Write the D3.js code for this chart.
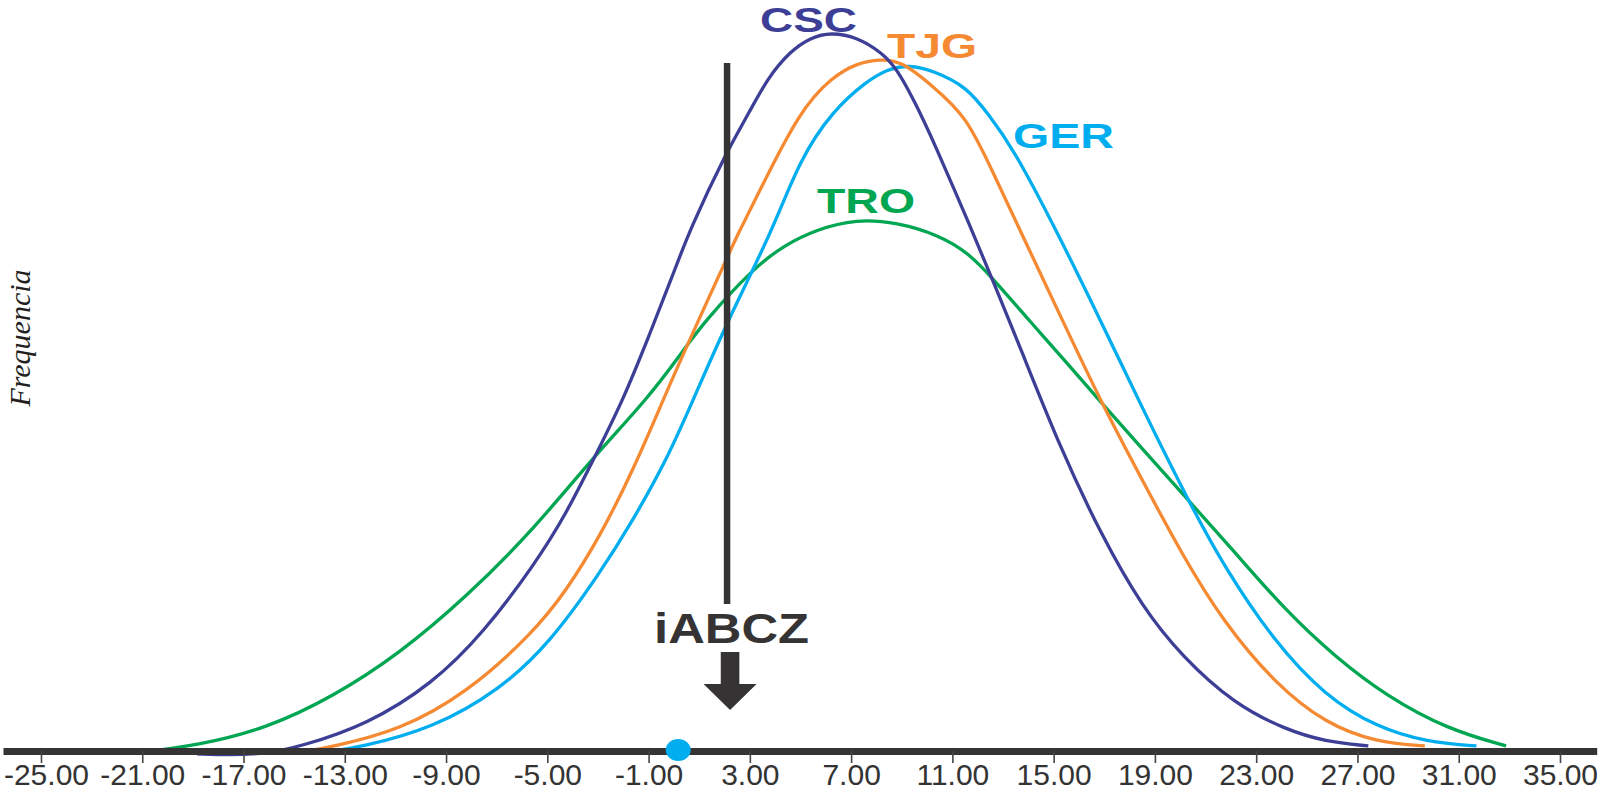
<!DOCTYPE html>
<html>
<head>
<meta charset="utf-8">
<script src="https://cdn.jsdelivr.net/npm/d3@7"></script>
<style>
  html, body { margin: 0; padding: 0; background: #ffffff; }
  svg { display: block; }
</style>
</head>
<body>
<svg id="chart" width="1599" height="792"></svg>
<script>
// ---------- data ----------
const tickValues = [-25, -21, -17, -13, -9, -5, -1, 3, 7, 11, 15, 19, 23, 27, 31, 35];

const seriesNames = ["CSC", "TJG", "GER", "TRO"];

const cscX = [-18.84, -17.56, -16.15, -14.77, -12.14, -9.51, -7.53, -5.56, -4.24, -3.05, -2.00, -1.00, 0.00, 0.63, 2.06, 2.98, 3.67, 4.59, 5.40, 6.20, 7.21, 8.22, 8.82, 9.51, 10.23, 11.76, 12.65, 13.66, 15.27, 16.88, 18.49, 20.10, 22.11, 24.13, 25.74, 27.43];
const cscY = [-0.4, -0.55, -0.4, 0.6, 3.6, 9.4, 16.4, 25.6, 33.0, 41.4, 48.8, 57.5, 66.5, 72.4, 83.1, 88.7, 93.3, 97.2, 99.1, 99.8, 99.2, 97.0, 94.7, 90.2, 84.9, 72.4, 64.9, 56.2, 42.0, 30.0, 20.0, 13.0, 6.6, 3.0, 1.3, 0.7];

const tjgX = [-14.77, -13.46, -10.82, -8.19, -5.56, -4.24, -2.92, -1.61, -0.42, 0.36, 2.06, 2.61, 3.18, 4.96, 6.29, 7.21, 8.14, 9.02, 10.23, 11.56, 12.65, 13.66, 15.27, 16.88, 18.49, 20.10, 21.71, 23.73, 25.74, 27.75, 29.66];
const tjgY = [-0.2, 0.6, 2.9, 8.0, 16.4, 22.3, 29.8, 39.0, 48.8, 55.1, 68.2, 72.4, 76.3, 89.0, 93.7, 95.5, 96.1, 95.8, 92.3, 88.2, 80.0, 72.4, 60.4, 48.4, 37.7, 27.1, 17.9, 9.4, 3.8, 1.2, 0.7];

const gerX = [-13.67, -12.40, -9.51, -6.87, -4.90, -2.92, -1.61, -0.29, 0.76, 2.06, 3.91, 4.96, 6.29, 7.61, 8.42, 9.31, 10.23, 11.56, 12.45, 13.37, 15.11, 16.88, 18.49, 20.30, 21.71, 23.73, 25.74, 27.75, 29.77, 31.70];
const gerY = [-0.1, 0.5, 3.15, 8.5, 15.0, 24.7, 32.1, 40.4, 48.75, 59.3, 72.4, 82.1, 89.0, 93.0, 94.7, 95.3, 94.5, 92.3, 88.3, 83.9, 72.3, 59.6, 47.7, 34.9, 25.7, 15.1, 7.6, 3.3, 1.2, 0.7];

const troX = [-21.29, -18.72, -16.09, -13.46, -10.82, -8.19, -5.56, -3.05, -1.08, 0.35, 1.17, 3.18, 4.39, 5.60, 7.21, 8.82, 10.43, 11.64, 12.65, 14.06, 15.67, 16.88, 18.49, 20.30, 22.11, 24.13, 26.14, 28.16, 30.57, 32.87];
const troY = [-0.3, 0.83, 3.15, 7.54, 13.57, 21.43, 30.69, 41.35, 48.75, 55.5, 59.5, 67.2, 70.3, 72.4, 73.9, 73.4, 71.7, 69.2, 65.4, 59.7, 53.3, 48.4, 42.0, 34.9, 27.8, 19.6, 13.0, 7.6, 3.0, 0.7];

const iabczValue = 2.1;     // vertical marker
const pointValue = 0.17;    // blue dot on the axis

const colors = { CSC: "#3d3f96", TJG: "#f68a33", GER: "#00aeef", TRO: "#00a651" };

// ---------- chart ----------
const svg = d3.select("#chart");

const x = d3.scaleLinear().domain([-26.5, 36.45]).range([3, 1596.7]);
const y = d3.scaleLinear().domain([0, 100]).range([751, 31]);

const series = [
  { name: "TRO", xs: troX, ys: troY },
  { name: "GER", xs: gerX, ys: gerY },
  { name: "TJG", xs: tjgX, ys: tjgY },
  { name: "CSC", xs: cscX, ys: cscY }
];

const line = d3.line()
  .x(d => x(d[0]))
  .y(d => y(d[1]))
  .curve(d3.curveBasis);

svg.append("g").selectAll("path")
  .data(series)
  .join("path")
  .attr("d", s => line(s.xs.map((v, i) => [v, s.ys[i]])))
  .attr("fill", "none")
  .attr("stroke", s => colors[s.name])
  .attr("stroke-width", 3.3)
  .attr("stroke-linejoin", "round");

// vertical iABCZ marker
const xm = x(iabczValue);
svg.append("line")
  .attr("x1", xm).attr("x2", xm)
  .attr("y1", 63).attr("y2", 604)
  .attr("stroke", "#353334")
  .attr("stroke-width", 6.5);

svg.append("text")
  .attr("x", xm + 4.5).attr("y", 643)
  .attr("text-anchor", "middle")
  .attr("font-family", "'Liberation Sans', Arial, sans-serif")
  .attr("font-weight", "bold")
  .attr("font-size", 43)
  .attr("textLength", 155)
  .attr("lengthAdjust", "spacingAndGlyphs")
  .attr("fill", "#353334")
  .text("iABCZ");

const xa = xm + 3;
svg.append("path")
  .attr("d", `M${xa - 9.3},652 L${xa + 9.3},652 L${xa + 9.3},684 L${xa + 26.5},684 L${xa},710 L${xa - 26.5},684 L${xa - 9.3},684 Z`)
  .attr("fill", "#353334");

// x axis
const axis = d3.axisBottom(x)
  .tickValues(tickValues)
  .tickFormat(d => d.toFixed(2))
  .tickSizeInner(12)
  .tickSizeOuter(0);

const gAxis = svg.append("g")
  .attr("transform", "translate(0,751)")
  .call(axis);

gAxis.select(".domain")
  .attr("stroke", "#353334")
  .attr("stroke-width", 7);
gAxis.selectAll(".tick line")
  .attr("stroke", "#444")
  .attr("stroke-width", 1.6);
gAxis.selectAll(".tick text")
  .attr("y", 34)
  .attr("dy", 0)
  .attr("fill", "#333")
  .attr("font-family", "'Liberation Sans', Arial, sans-serif")
  .attr("font-size", 30);
// keep the first label inside the left edge
gAxis.selectAll(".tick text")
  .filter((d, i) => i === 0)
  .attr("x", 5);

// blue point on the axis
svg.append("ellipse")
  .attr("cx", x(pointValue)).attr("cy", 750)
  .attr("rx", 12.5).attr("ry", 11)
  .attr("fill", "#00aeef");

// series labels
const labelPos = {
  CSC: { x: 760, y: 32, w: 97 },
  TJG: { x: 887, y: 58, w: 90 },
  GER: { x: 1013, y: 148, w: 101 },
  TRO: { x: 817, y: 213, w: 98 }
};
svg.append("g").selectAll("text")
  .data(seriesNames)
  .join("text")
  .attr("x", d => labelPos[d].x)
  .attr("y", d => labelPos[d].y)
  .attr("font-family", "'Liberation Sans', Arial, sans-serif")
  .attr("font-weight", "bold")
  .attr("font-size", 35)
  .attr("textLength", d => labelPos[d].w)
  .attr("lengthAdjust", "spacingAndGlyphs")
  .attr("fill", d => colors[d])
  .text(d => d);

// y label
svg.append("text")
  .attr("transform", "translate(30,338) rotate(-90)")
  .attr("text-anchor", "middle")
  .attr("font-family", "'Liberation Serif', 'Times New Roman', serif")
  .attr("font-style", "italic")
  .attr("font-size", 30)
  .attr("fill", "#231f20")
  .text("Frequencia");
</script>
</body>
</html>
